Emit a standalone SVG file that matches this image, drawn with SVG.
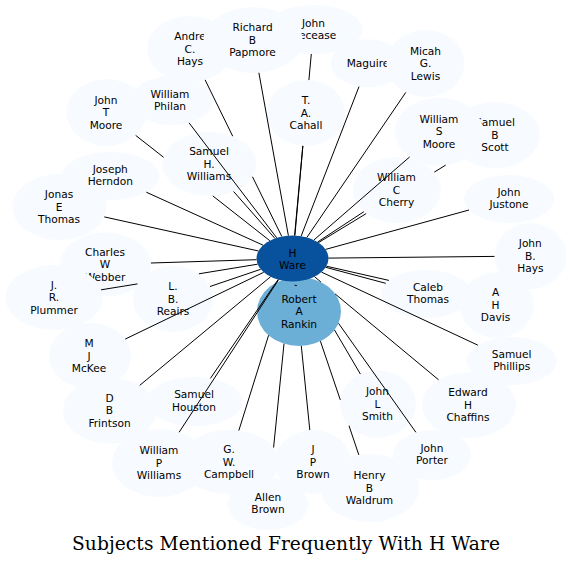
<svg xmlns="http://www.w3.org/2000/svg" width="572" height="566" viewBox="0 0 572 566">
<style>
.n ellipse{fill:#f7fbff;stroke:none}
text{font-family:"DejaVu Sans",sans-serif;font-size:10.6px;text-anchor:middle;fill:#000}
#connectors path{stroke:#000;stroke-width:1;fill:none}
.title{font-family:"DejaVu Serif",serif;font-size:18.6px}
</style>
<rect width="572" height="566" fill="#fff"/>
<g id="nodes">
<g id="n-andre" class="n"><ellipse cx="190" cy="49" rx="43" ry="33"/><text x="190" y="40.2">Andre</text><text x="190" y="52.6">C.</text><text x="190" y="65">Hays</text></g>
<g id="n-john-decease" class="n"><ellipse cx="313.5" cy="29.5" rx="49" ry="24.5"/><text x="313.5" y="26.5">John</text><text x="313.5" y="38.9">Decease</text></g>
<g id="n-richard" class="n"><ellipse cx="253" cy="40" rx="49.5" ry="33"/><text x="252.5" y="31.2">Richard</text><text x="252.5" y="43.6">B</text><text x="252.5" y="56">Papmore</text></g>
<g id="n-maguire" class="n"><ellipse cx="368" cy="63.3" rx="37" ry="24"/><text x="368" y="66.7">Maguire</text></g>
<g id="n-micah" class="n"><ellipse cx="425.5" cy="63.5" rx="39" ry="33.5"/><text x="425.5" y="54.7">Micah</text><text x="425.5" y="67.1">G.</text><text x="425.5" y="79.5">Lewis</text></g>
<g id="n-cahall" class="n"><ellipse cx="306" cy="113" rx="39" ry="33"/><text x="306" y="104.2">T.</text><text x="306" y="116.6">A.</text><text x="306" y="129">Cahall</text></g>
<g id="n-philan" class="n"><ellipse cx="172" cy="100.5" rx="41" ry="24.5"/><text x="170" y="97.5">William</text><text x="170" y="109.9">Philan</text></g>
<g id="n-jtmoore" class="n"><ellipse cx="106.5" cy="112.5" rx="40" ry="33.5"/><text x="106" y="103.7">John</text><text x="106" y="116.1">T</text><text x="106" y="128.5">Moore</text></g>
<g id="n-shwilliams" class="n"><ellipse cx="209.5" cy="164" rx="47" ry="32"/><text x="209" y="155.2">Samuel</text><text x="209" y="167.6">H.</text><text x="209" y="180">Williams</text></g>
<g id="n-jonas" class="n"><ellipse cx="59.5" cy="207" rx="47" ry="33"/><text x="59" y="198.2">Jonas</text><text x="59" y="210.6">E</text><text x="59" y="223">Thomas</text></g>
<g id="n-herndon" class="n"><ellipse cx="110.5" cy="176" rx="48.5" ry="24"/><text x="110.3" y="173">Joseph</text><text x="110.3" y="185.4">Herndon</text></g>
<g id="n-charles" class="n"><ellipse cx="105.5" cy="264.5" rx="45.5" ry="32"/><text x="105" y="255.7">Charles</text><text x="105" y="268.1">W</text><text x="105" y="280.5">Webber</text></g>
<g id="n-plummer" class="n"><ellipse cx="54" cy="297.5" rx="48.5" ry="32.5"/><text x="54" y="288.7">J.</text><text x="54" y="301.1">R.</text><text x="54" y="313.5">Plummer</text></g>
<g id="n-reairs" class="n"><ellipse cx="173" cy="299" rx="40" ry="33"/><text x="173" y="290.2">L.</text><text x="173" y="302.6">B.</text><text x="173" y="315">Reairs</text></g>
<g id="n-mckee" class="n"><ellipse cx="90" cy="356" rx="41" ry="33"/><text x="89" y="347.2">M</text><text x="89" y="359.6">J</text><text x="89" y="372">McKee</text></g>
<g id="n-frintson" class="n"><ellipse cx="109.5" cy="410.5" rx="46.5" ry="33"/><text x="109.5" y="401.7">D</text><text x="109.5" y="414.1">B</text><text x="109.5" y="426.5">Frintson</text></g>
<g id="n-houston" class="n"><ellipse cx="194.5" cy="401.5" rx="48" ry="24.5"/><text x="194" y="398.3">Samuel</text><text x="194" y="410.7">Houston</text></g>
<g id="n-wpwilliams" class="n"><ellipse cx="159" cy="463" rx="47" ry="34"/><text x="159" y="454.2">William</text><text x="159" y="466.6">P</text><text x="159" y="479">Williams</text></g>
<g id="n-allenbrown" class="n"><ellipse cx="268" cy="504" rx="40" ry="26"/><text x="268" y="501">Allen</text><text x="268" y="513.4">Brown</text></g>
<g id="n-campbell" class="n"><ellipse cx="229" cy="462" rx="50" ry="32"/><text x="229" y="453.2">G.</text><text x="229" y="465.6">W.</text><text x="229" y="478">Campbell</text></g>
<g id="n-waldrum" class="n"><ellipse cx="370" cy="488" rx="49" ry="34"/><text x="369.5" y="479.2">Henry</text><text x="369.5" y="491.6">B</text><text x="369.5" y="504">Waldrum</text></g>
<g id="n-jpbrown" class="n"><ellipse cx="313" cy="462" rx="38" ry="32"/><text x="313" y="453.2">J</text><text x="313" y="465.6">P</text><text x="313" y="478">Brown</text></g>
<g id="n-porter" class="n"><ellipse cx="432" cy="455" rx="39" ry="25"/><text x="432" y="452">John</text><text x="432" y="464.4">Porter</text></g>
<g id="n-jlsmith" class="n"><ellipse cx="378" cy="404" rx="38" ry="33.7"/><text x="377.5" y="395.2">John</text><text x="377.5" y="407.6">L</text><text x="377.5" y="420">Smith</text></g>
<g id="n-chaffins" class="n"><ellipse cx="469" cy="405" rx="47" ry="33"/><text x="468" y="396.2">Edward</text><text x="468" y="408.6">H</text><text x="468" y="421">Chaffins</text></g>
<g id="n-phillips" class="n"><ellipse cx="511.7" cy="361" rx="45" ry="24"/><text x="511.7" y="358">Samuel</text><text x="511.7" y="370.4">Phillips</text></g>
<g id="n-davis" class="n"><ellipse cx="496.7" cy="305" rx="37" ry="33"/><text x="495.5" y="296.2">A</text><text x="495.5" y="308.6">H</text><text x="495.5" y="321">Davis</text></g>
<g id="n-caleb" class="n"><ellipse cx="426" cy="294" rx="45" ry="24"/><text x="428" y="291">Caleb</text><text x="428" y="303.4">Thomas</text></g>
<g id="n-jbhays" class="n"><ellipse cx="530.5" cy="256" rx="36" ry="33"/><text x="530.3" y="247.2">John</text><text x="530.3" y="259.6">B.</text><text x="530.3" y="272">Hays</text></g>
<g id="n-justone" class="n"><ellipse cx="509" cy="199" rx="45" ry="24"/><text x="509" y="196">John</text><text x="509" y="208.4">Justone</text></g>
<g id="n-cherry" class="n"><ellipse cx="397" cy="190" rx="44" ry="33"/><text x="396.5" y="181.2">William</text><text x="396.5" y="193.6">C</text><text x="396.5" y="206">Cherry</text></g>
<g id="n-sbscott" class="n"><ellipse cx="495" cy="135" rx="45" ry="33"/><text x="495" y="126.2">Samuel</text><text x="495" y="138.6">B</text><text x="495" y="151">Scott</text></g>
<g id="n-wsmoore" class="n"><ellipse cx="439" cy="131.5" rx="44" ry="34"/><text x="439" y="122.7">William</text><text x="439" y="135.1">S</text><text x="439" y="147.5">Moore</text></g>
<g id="n-rankin"><ellipse cx="299" cy="311.5" rx="42" ry="34.5" fill="#6baed6"/><text x="299" y="302.7">Robert</text><text x="299" y="315.1">A</text><text x="299" y="327.5">Rankin</text></g>
<g id="n-hware"><ellipse cx="292.5" cy="258.5" rx="36" ry="23" fill="#08519c"/><text x="292.5" y="256.5">H</text><text x="292.5" y="268.9">Ware</text></g>
</g>
<g id="connectors">
<path d="M281.8,236.5L252.5,176.8M232.7,136.2L205.1,79.9"/>
<path d="M288.4,235.7L258.9,72.8"/>
<path d="M294.6,235.5L302.8,145.9M308.9,80.1L311.3,54"/>
<path d="M301.1,236.2L359,86.6"/>
<path d="M306.9,237.4L405.8,92.4"/>
<path d="M294.9,235.5L302.9,145.9"/>
<path d="M276.7,237.8L189,122.8"/>
<path d="M269.8,240.7L212.8,195.9M163.6,157.3L135.7,135.4"/>
<path d="M274.9,238.4L233.6,191.5"/>
<path d="M263.1,245.2L146.3,192.2"/>
<path d="M258.5,251L104.3,216.9"/>
<path d="M256.5,259.7L150.9,263"/>
<path d="M257.6,264.2L198.9,273.8M137.5,283.9L101.1,289.8"/>
<path d="M260.7,269.3L210,286.5"/>
<path d="M263.7,272.3L125.2,339.1"/>
<path d="M270.6,276.7L139.7,385.4"/>
<path d="M278.1,279.6L210.4,378.4"/>
<path d="M278.6,279.7L179.1,432.3"/>
<path d="M268.6,335.3L238.8,430.6"/>
<path d="M284,343.7L273.6,447.5"/>
<path d="M301.3,345.9L309.8,430.1"/>
<path d="M320.4,341.2L340.3,399.9M349,425.7L358.8,454.9"/>
<path d="M334.5,330L360.4,374.1"/>
<path d="M338.5,323.3L415.9,432.3"/>
<path d="M314.5,276.7L320.9,282M335.1,293.9L438.6,379.8"/>
<path d="M321.5,272.1L477.9,345.2"/>
<path d="M326.4,266.2L388.9,280.4"/>
<path d="M325.7,267.3L385.7,283.3"/>
<path d="M328.5,258.1L494.5,256.4"/>
<path d="M325.6,249.4L469,210"/>
<path d="M317.6,242L363.9,211.7"/>
<path d="M313.9,240L409.7,156.9"/>
<path d="M318.5,242.6L366.2,213.6M434.3,172.1L445.7,165.1"/>
<path d="M294.6,285.2L296.8,285.6"/>
</g>
<text class="title" x="286" y="550" textLength="428" lengthAdjust="spacing">Subjects Mentioned Frequently With H Ware</text>
</svg>
